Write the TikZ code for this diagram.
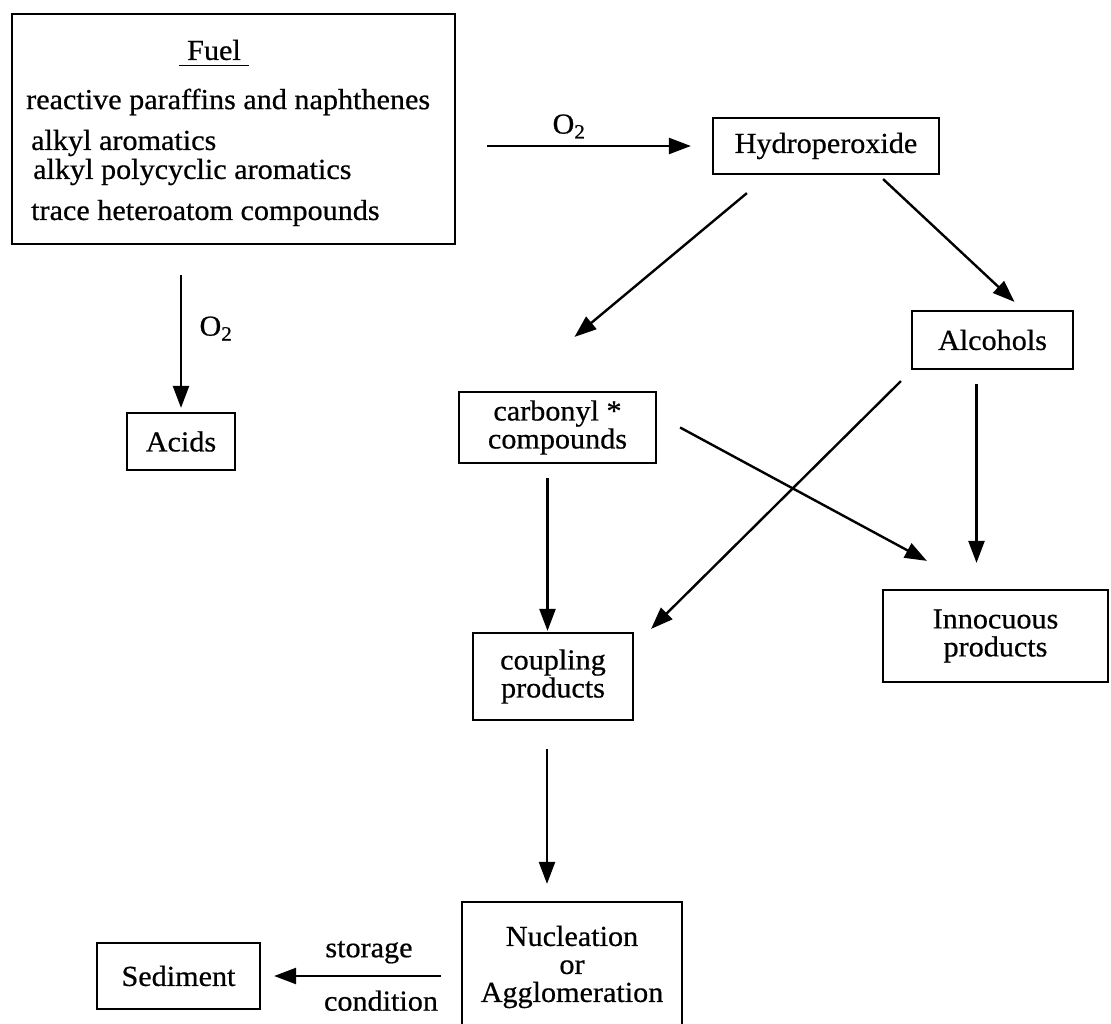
\documentclass[tikz,border=0pt]{standalone}
\usepackage{fontspec}
\setmainfont{Liberation Serif}[FakeStretch=1.04, FakeBold=0.6]
\usetikzlibrary{arrows.meta}

\begin{document}
\begin{tikzpicture}[x=1pt, y=-1pt, line width=2.4pt,
  box/.style={draw, line width=2.2pt, inner sep=0pt, align=center,
    font=\fontsize{29}{28}\selectfont},
  lbl/.style={font=\fontsize{29}{29}\selectfont},
  flow/.style={-{Triangle[length=22pt,width=16pt]}, line width=2.4pt}]

  \useasboundingbox (0,0) rectangle (1111,1024);

  % boxes
  \node [box, minimum width=443pt, minimum height=230pt] (fuel) at (233.5,129) {};
  \node [box, minimum width=226pt, minimum height=56pt] (hyd) at (826,146) {Hydroperoxide};
  \node [box, minimum width=108pt, minimum height=57pt] (acids) at (181,441.5) {Acids};
  \node [box, minimum width=161pt, minimum height=58pt] (alc) at (992.5,340) {Alcohols};
  \node [box, minimum width=197pt, minimum height=71pt] (carb) at (557.5,427.5) {carbonyl *\\compounds};
  \node [box, minimum width=160pt, minimum height=87pt] (coup) at (553,676.5) {coupling\\products};
  \node [box, minimum width=225pt, minimum height=92pt] (inno) at (995.5,636) {Innocuous\\products};
  \node [box, minimum width=220pt, minimum height=130pt,
    font=\fontsize{29}{28}\selectfont] (nucl) at (572,967) {Nucleation\\or\\Agglomeration};
  \node [box, minimum width=163pt, minimum height=66pt] (sed) at (178.5,976) {Sediment};

  % fuel contents
  \node [lbl, inner xsep=7pt, inner ysep=4pt] (title) at (214,50) {Fuel};
  \draw [line width=1.6pt] (title.south west) -- (title.south east);
  \node [lbl, anchor=west, inner sep=0pt] (fuel1) at (25,102) {reactive paraffins and naphthenes};
  \node [lbl, anchor=west, inner sep=0pt] (fuel2) at (30,143) {alkyl aromatics};
  \node [lbl, anchor=west, inner sep=0pt] (fuel3) at (32,172) {alkyl polycyclic aromatics};
  \node [lbl, anchor=west, inner sep=0pt] (fuel4) at (30,213) {trace heteroatom compounds};

  % arrows
  \draw [flow, shorten <=31pt, shorten >=21pt] (fuel.east |- hyd.west) -- (hyd.west)
    node [lbl, midway, above=3pt, xshift=-15pt] (o2a) {O\textsubscript{2}};
  \draw [flow, shorten <=30pt, shorten >=4pt] (acids.north |- fuel.south) -- (acids.north)
    node [lbl, midway, right=14pt] (o2b) {O\textsubscript{2}};

  \draw [flow] ([xshift=35pt,yshift=-18pt]hyd.south west) -- ([xshift=17pt,yshift=54pt]carb.north);
  \draw [flow] ([xshift=-57pt,yshift=-4pt]hyd.south east) -- ([xshift=22pt,yshift=8pt]alc.north);
  \draw [flow] ([xshift=-10pt,yshift=-11pt]alc.south west) -- ([xshift=17pt,yshift=3pt]coup.north east);
  \draw [flow, shorten <=14pt, shorten >=26pt] ([xshift=-16pt]alc.south) -- ([xshift=-16pt]alc.south |- inno.north);
  \draw [flow] ([xshift=23pt]carb.east) -- ([xshift=45pt,yshift=28pt]inno.north west);
  \draw [flow, shorten <=14pt, shorten >=1pt] ([xshift=-10pt]carb.south) -- ([xshift=-10pt]carb.south |- coup.north);
  \draw [flow, shorten <=28pt, shorten >=17pt] ([xshift=-6pt]coup.south) -- ([xshift=-6pt]coup.south |- nucl.north);
  \draw [flow, shorten <=20pt, shorten >=13pt] (nucl.west |- sed.east) -- (sed.east)
    node [lbl, midway, above=8pt, xshift=8pt] (store) {storage}
    node [lbl, midway, below=10pt, xshift=20pt] (cond) {condition};

\end{tikzpicture}
\end{document}
